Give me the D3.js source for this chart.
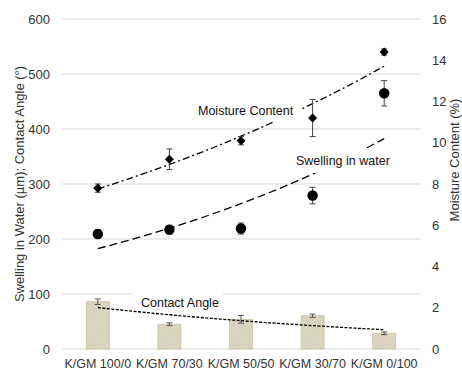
<!DOCTYPE html>
<html>
<head>
<script src="https://cdnjs.cloudflare.com/ajax/libs/d3/7.8.5/d3.min.js"></script>
<style>
  body { margin: 0; background: #fff; }
  text { font-family: "Liberation Sans", Arial, sans-serif; fill: #333; }
</style>
</head>
<body>
<div id="chart"></div>
<script>
// data
var categories = ["K/GM 100/0", "K/GM 70/30", "K/GM 50/50", "K/GM 30/70", "K/GM 0/100"];
var contactAngle    = [86, 45, 54, 60.5, 28.5];
var contactAngleErr = [5, 2.5, 7, 3, 2.5];
var swelling    = [209, 217, 219, 279, 465];
var swellingErr = [8, 8, 10, 15, 23];
var moisture    = [7.8, 9.2, 10.1, 11.2, 14.4];
var moistureErr = [0.2, 0.5, 0.2, 0.9, 0.15];
var leftTicks  = [0, 100, 200, 300, 400, 500, 600];
var rightTicks = [0, 2, 4, 6, 8, 10, 12, 14, 16];

var W = 462, H = 373;
var plotL = 62, plotR = 420, plotT = 19, plotB = 349;

var svg = d3.select("#chart").append("svg")
  .attr("width", W).attr("height", H);

var x = d3.scaleBand().domain(categories).range([plotL, plotR]);
var yL = d3.scaleLinear().domain([0, 600]).range([plotB, plotT]);
var yR = d3.scaleLinear().domain([0, 16]).range([plotB, plotT]);

// hatch pattern for the bars
var defs = svg.append("defs");
var pat = defs.append("pattern").attr("id", "hatch")
  .attr("patternUnits", "userSpaceOnUse").attr("width", 3).attr("height", 3);
pat.append("rect").attr("width", 3).attr("height", 3).attr("fill", "#ddd8c3");
pat.append("path").attr("d", "M0,3 L3,0").attr("stroke", "#cec7ad").attr("stroke-width", 0.7);

// gridlines
svg.append("g").selectAll("line").data(leftTicks).enter().append("line")
  .attr("x1", plotL).attr("x2", plotR)
  .attr("y1", d => yL(d)).attr("y2", d => yL(d))
  .attr("stroke", "#d9d9d9").attr("stroke-width", 1);

// bars
var bw = 23;
var cx = d => x(d) + x.bandwidth() / 2;
svg.append("g").selectAll("rect").data(categories).enter().append("rect")
  .attr("x", d => cx(d) - bw / 2)
  .attr("y", (d, i) => yL(contactAngle[i]))
  .attr("width", bw)
  .attr("height", (d, i) => plotB - yL(contactAngle[i]))
  .attr("fill", "url(#hatch)")
  .attr("stroke", "#c9c1a3").attr("stroke-width", 0.8);

function errorBars(vals, errs, scale, color) {
  var g = svg.append("g").attr("stroke", color).attr("stroke-width", 1);
  categories.forEach(function(c, i) {
    var px = cx(c), y1 = scale(vals[i] + errs[i]), y2 = scale(vals[i] - errs[i]);
    g.append("line").attr("x1", px).attr("x2", px).attr("y1", y1).attr("y2", y2);
    g.append("line").attr("x1", px - 3).attr("x2", px + 3).attr("y1", y1).attr("y2", y1);
    g.append("line").attr("x1", px - 3).attr("x2", px + 3).attr("y1", y2).attr("y2", y2);
  });
}
errorBars(contactAngle, contactAngleErr, yL, "#555");

// exponential trendline (least squares on ln y), like the spreadsheet one
function expFit(vals) {
  var xs = vals.map((v, i) => i + 1), ls = vals.map(v => Math.log(v));
  var mx = d3.mean(xs), ml = d3.mean(ls);
  var b = d3.sum(xs, (v, i) => (v - mx) * (ls[i] - ml)) / d3.sum(xs, v => (v - mx) * (v - mx));
  var a = Math.exp(ml - b * mx);
  return t => a * Math.exp(b * t);
}
function trend(vals, scale, dash) {
  var f = expFit(vals);
  var x0 = cx(categories[0]);
  var pts = d3.range(0, 4.001, 0.1).map(t => [x0 + t * x.step(), scale(f(t + 1))]);
  svg.append("path").attr("d", d3.line()(pts))
    .attr("fill", "none").attr("stroke", "#000").attr("stroke-width", 1.3)
    .attr("stroke-dasharray", dash);
}
trend(contactAngle, yL, "3,1.5");
trend(swelling, yL, "8,4");
trend(moisture, yR, "7,3,2,3");

// markers
errorBars(swelling, swellingErr, yL, "#444");
errorBars(moisture, moistureErr, yR, "#444");
svg.append("g").selectAll("circle").data(categories).enter().append("circle")
  .attr("cx", cx).attr("cy", (d, i) => yL(swelling[i])).attr("r", 5.2).attr("fill", "#000");
svg.append("g").selectAll("path").data(categories).enter().append("path")
  .attr("d", d3.symbol().type(d3.symbolDiamond2).size(52))
  .attr("transform", (d, i) => "translate(" + cx(d) + "," + yR(moisture[i]) + ")")
  .attr("fill", "#000");

// series labels with white boxes
function label(txt, lx, ly, box) {
  svg.append("rect").attr("x", box[0]).attr("y", box[1]).attr("width", box[2]).attr("height", box[3]).attr("fill", "#fff");
  svg.append("text").attr("x", lx).attr("y", ly).attr("dy", "0.35em")
    .style("font-size", "12.5px").style("fill", "#111").text(txt);
}
label("Moisture Content", 198, 111, [194, 100, 106, 22]);
label("Swelling in water", 296, 161, [292, 149, 96, 24]);
label("Contact Angle", 141, 303, [132, 290, 91, 19]);

// axes
var gl = svg.append("g").attr("transform", "translate(" + (plotL - 12) + ",0)")
  .call(d3.axisLeft(yL).tickValues(leftTicks).tickSize(0).tickPadding(0));
gl.select(".domain").remove();
gl.selectAll("text").style("font-size", "13px");

var gr = svg.append("g").attr("transform", "translate(432,0)")
  .call(d3.axisRight(yR).tickValues(rightTicks).tickSize(0).tickPadding(0));
gr.select(".domain").remove();
gr.selectAll("text").style("font-size", "13px");

var gx = svg.append("g").attr("transform", "translate(0," + (plotB + 10) + ")")
  .call(d3.axisBottom(x).tickSize(0).tickPadding(0));
gx.select(".domain").remove();
gx.selectAll("text").style("font-size", "12.5px");

svg.append("text")
  .attr("transform", "translate(19," + ((plotT + plotB) / 2) + ") rotate(-90)")
  .attr("dy", "0.35em").attr("text-anchor", "middle").style("font-size", "13px")
  .text("Swelling in Water (\u00b5m); Contact Angle (\u00b0)");
svg.append("text")
  .attr("transform", "translate(454,160) rotate(-90)")
  .attr("dy", "0.35em").attr("text-anchor", "middle").style("font-size", "13px")
  .text("Moisture Content (%)");
</script>
</body>
</html>
